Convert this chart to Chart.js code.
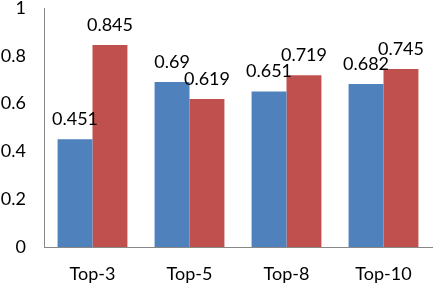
<!DOCTYPE html>
<html>
<head>
<meta charset="utf-8">
<script src="https://cdn.jsdelivr.net/npm/chart.js@4"></script>
<style>
  html, body { margin: 0; padding: 0; background: #fff; }
  #wrap { width: 433px; height: 285px; }
</style>
</head>
<body>
<div id="wrap"><canvas id="chart"></canvas></div>
<script>
const categories = ['Top-3', 'Top-5', 'Top-8', 'Top-10'];
const seriesA = [0.451, 0.69, 0.651, 0.682];
const seriesB = [0.845, 0.619, 0.719, 0.745];
const labelsA = ['0.451', '0.69', '0.651', '0.682'];
const labelsB = ['0.845', '0.619', '0.719', '0.745'];

// draw value labels above each bar
const valueLabels = {
    id: 'valueLabels',
    afterDatasetsDraw(chart) {
        const ctx = chart.ctx;
        ctx.save();
        ctx.font = '18px Lato, "Open Sans", sans-serif';
        ctx.fillStyle = '#000';
        ctx.textAlign = 'center';
        ctx.textBaseline = 'bottom';
        const texts = [labelsA, labelsB];
        chart.data.datasets.forEach((ds, i) => {
            chart.getDatasetMeta(i).data.forEach((bar, j) => {
                ctx.fillText(texts[i][j], bar.x, bar.y - 11);
            });
        });
        ctx.restore();
    }
};

new Chart(document.getElementById('chart'), {
    type: 'bar',
    data: {
        labels: categories,
        datasets: [
            { data: seriesA, backgroundColor: '#4F81BD' },
            { data: seriesB, backgroundColor: '#C0504D' }
        ]
    },
    options: {
        responsive: true,
        maintainAspectRatio: false,
        animation: false,
        layout: { padding: 0 },
        plugins: { legend: { display: false }, tooltip: { enabled: false } },
        datasets: { bar: { categoryPercentage: 0.72, barPercentage: 1 } },
        scales: {
            x: {
                grid: { display: false, drawTicks: false },
                border: { color: '#888', width: 1 },
                ticks: { color: '#000', font: { family: 'Lato', size: 18 }, padding: 16 },
                afterFit: (scale) => { scale.height = 38; scale.paddingRight = 1; }
            },
            y: {
                min: 0, max: 1,
                grid: { display: false, drawTicks: false },
                border: { color: '#888', width: 1 },
                ticks: {
                    stepSize: 0.2, color: '#000', font: { family: 'Lato', size: 18 }, padding: 18,
                    callback: (v) => String(Math.round(v * 10) / 10)
                },
                afterFit: (scale) => { scale.width = 44; scale.paddingTop = 8; scale.paddingBottom = 0; }
            }
        }
    },
    plugins: [valueLabels]
});
</script>
</body>
</html>
